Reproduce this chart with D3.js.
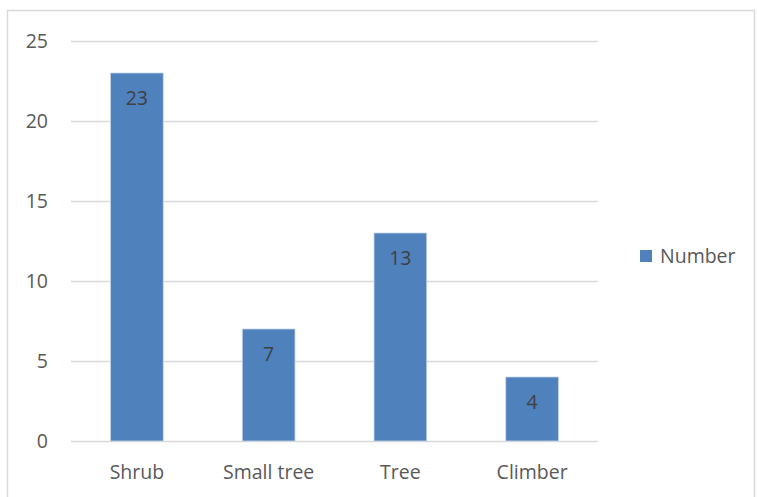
<!DOCTYPE html>
<html><head><meta charset="utf-8">
<script src="https://cdn.jsdelivr.net/npm/d3@7"></script>
<style>body{margin:0;background:#fff}svg{display:block}text{font-family:"Open Sans",sans-serif;}</style>
</head><body><svg id="c" width="757" height="497"></svg>
<script>
const categories = ["Shrub", "Small tree", "Tree", "Climber"];
const values = [23, 7, 13, 4];
const seriesName = "Number";
const yTicks = [0, 5, 10, 15, 20, 25];

const FS = "19.5px";
const svg = d3.select("#c");
svg.append("rect").attr("x", 7.5).attr("y", 10.5).attr("width", 747).attr("height", 500)
  .attr("fill", "#fff").attr("stroke", "#d9d9d9").attr("stroke-width", 1.5);

const x = d3.scaleBand().domain(categories).range([71, 598]).paddingInner(0.6).paddingOuter(0.3);
const y = d3.scaleLinear().domain([0, 25]).range([441, 41]);

const grid = svg.append("g");
grid.selectAll("line").data(yTicks).join("line")
  .attr("x1", 71).attr("x2", 598)
  .attr("y1", d => Math.round(y(d)) + 0.5).attr("y2", d => Math.round(y(d)) + 0.5)
  .attr("stroke", "#d9d9d9").attr("stroke-width", 1.3);

const yAxis = svg.append("g").attr("transform", "translate(48,0)")
  .call(d3.axisLeft(y).tickValues(yTicks).tickSize(0).tickPadding(0));
yAxis.select(".domain").remove();
yAxis.selectAll("text").attr("fill", "#595959").style("font-size", FS).style("font-family", '"Open Sans",sans-serif');

svg.append("g").selectAll("rect").data(values).join("rect")
  .attr("x", (d, i) => x(categories[i]))
  .attr("width", x.bandwidth())
  .attr("y", d => y(d))
  .attr("height", d => y(0) - y(d))
  .attr("fill", "#4f81bd").attr("stroke", "#c6d5ea").attr("stroke-width", 0.8);

svg.append("g").selectAll("text").data(values).join("text")
  .attr("x", (d, i) => x(categories[i]) + x.bandwidth() / 2)
  .attr("y", d => y(d) + 25)
  .attr("dy", "0.35em")
  .attr("text-anchor", "middle")
  .attr("fill", "#404040").style("font-size", FS)
  .text(d => d);

const xAxis = svg.append("g").attr("transform", "translate(0,441)")
  .call(d3.axisBottom(x).tickSize(0).tickPadding(24));
xAxis.select(".domain").remove();
xAxis.selectAll("text").attr("fill", "#595959").style("font-size", FS).style("font-family", '"Open Sans",sans-serif');

const leg = svg.append("g");
leg.append("rect").attr("x", 640).attr("y", 250).attr("width", 12).attr("height", 12).attr("fill", "#4f81bd");
leg.append("text").attr("x", 660).attr("y", 256).attr("dy", "0.35em").attr("fill", "#595959")
  .style("font-size", FS).text(seriesName);
</script></body></html>
